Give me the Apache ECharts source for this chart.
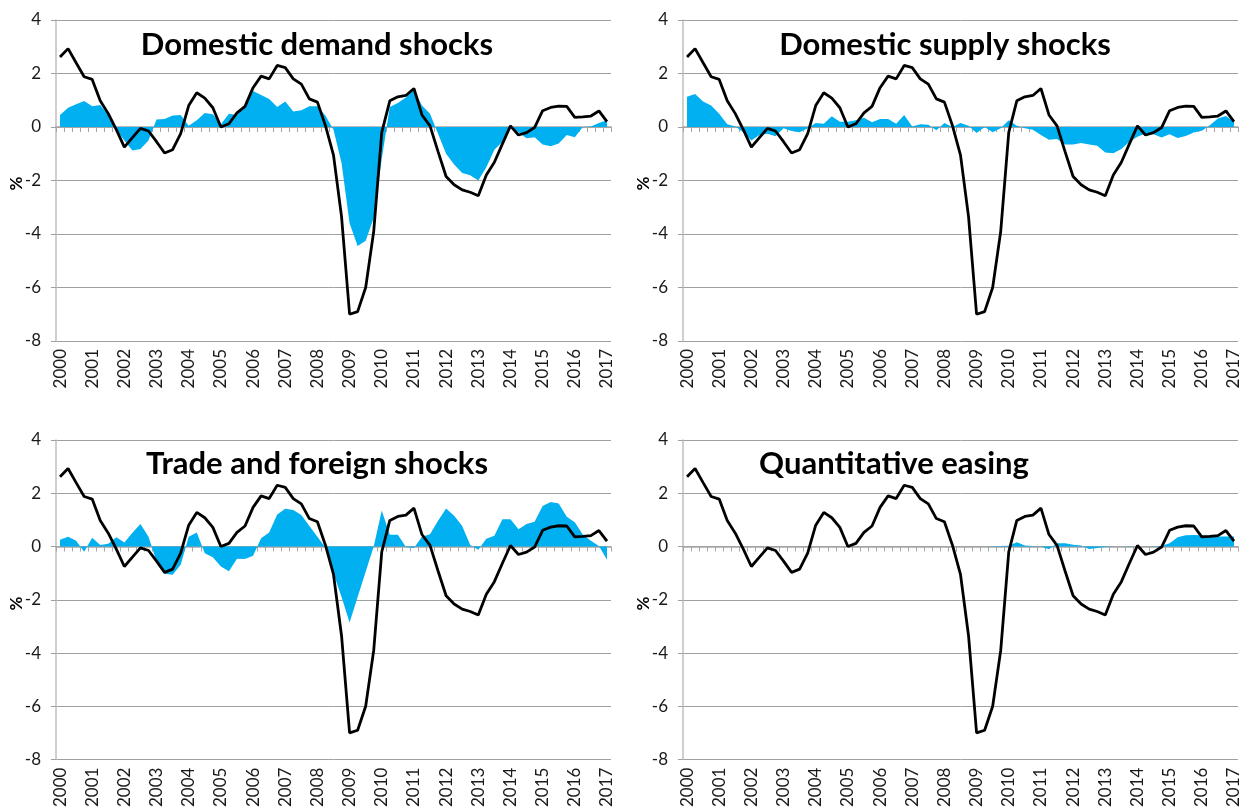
<!DOCTYPE html>
<html>
<head>
<meta charset="utf-8">
<script src="https://cdn.jsdelivr.net/npm/echarts@6.0.0/dist/echarts.min.js"></script>
<style>
html,body{margin:0;padding:0;background:#fff;}
#chart{width:1244px;height:810px;}
</style>
</head>
<body>
<div id="chart"></div>
<script>
const categories = [
 "2000Q1","2000Q2","2000Q3","2000Q4","2001Q1","2001Q2","2001Q3","2001Q4",
 "2002Q1","2002Q2","2002Q3","2002Q4","2003Q1","2003Q2","2003Q3","2003Q4",
 "2004Q1","2004Q2","2004Q3","2004Q4","2005Q1","2005Q2","2005Q3","2005Q4",
 "2006Q1","2006Q2","2006Q3","2006Q4","2007Q1","2007Q2","2007Q3","2007Q4",
 "2008Q1","2008Q2","2008Q3","2008Q4","2009Q1","2009Q2","2009Q3","2009Q4",
 "2010Q1","2010Q2","2010Q3","2010Q4","2011Q1","2011Q2","2011Q3","2011Q4",
 "2012Q1","2012Q2","2012Q3","2012Q4","2013Q1","2013Q2","2013Q3","2013Q4",
 "2014Q1","2014Q2","2014Q3","2014Q4","2015Q1","2015Q2","2015Q3","2015Q4",
 "2016Q1","2016Q2","2016Q3","2016Q4","2017Q1"
];

const yTicks = { min: -8, max: 4, step: 2 };
const yUnit = "%";

const gdpGrowth = [
 2.62, 2.93, 2.4, 1.88, 1.78, 0.98, 0.5, -0.1,
 -0.75, -0.4, -0.05, -0.15, -0.55, -0.97, -0.85, -0.25,
 0.8, 1.28, 1.08, 0.72, 0.0, 0.12, 0.53, 0.77,
 1.47, 1.9, 1.8, 2.3, 2.22, 1.8, 1.6, 1.05,
 0.93, 0.05, -1.05, -3.35, -7.0, -6.9, -6.0, -3.9,
 -0.2, 0.98, 1.13, 1.18, 1.44, 0.45, 0.04, -0.92,
 -1.85, -2.16, -2.35, -2.44, -2.57, -1.79, -1.32, -0.63,
 0.04, -0.3, -0.21, -0.02, 0.61, 0.73, 0.78, 0.77,
 0.36, 0.38, 0.41, 0.6, 0.2
];

const demandShock = [
 0.45, 0.72, 0.85, 0.97, 0.78, 0.82, 0.45, -0.1,
 -0.5, -0.88, -0.82, -0.5, 0.28, 0.3, 0.43, 0.45,
 0.05, 0.25, 0.52, 0.48, 0.1, 0.5, 0.45, 0.8,
 1.35, 1.2, 1.05, 0.75, 0.95, 0.58, 0.63, 0.78,
 0.78, 0.42, -0.1, -1.35, -3.6, -4.45, -4.25, -3.4,
 -1.2, 0.75, 0.9, 1.1, 1.4, 0.8, 0.5, -0.25,
 -1.0, -1.4, -1.72, -1.8, -2.0, -1.5, -0.85, -0.55,
 0.0, -0.2, -0.42, -0.38, -0.65, -0.72, -0.62, -0.3,
 -0.38, 0.0, 0.02, 0.15, 0.25
];

const supplyShock = [
 1.13, 1.23, 0.95, 0.8, 0.5, 0.1, 0.02, -0.2,
 -0.5, -0.3, -0.25, -0.35, -0.05, -0.15, -0.2, -0.05,
 0.15, 0.12, 0.4, 0.2, 0.2, 0.25, 0.35, 0.18,
 0.3, 0.3, 0.12, 0.45, 0.02, 0.1, 0.08, -0.12,
 0.15, 0.0, 0.15, 0.05, -0.22, 0.0, -0.2, -0.05,
 0.25, 0.05, -0.05, -0.1, -0.3, -0.48, -0.45, -0.65,
 -0.65, -0.6, -0.65, -0.7, -0.95, -0.98, -0.82, -0.55,
 -0.36, -0.24, -0.27, -0.39, -0.27, -0.41, -0.34, -0.21,
 -0.14, 0.07, 0.32, 0.41, 0.2
];

const tradeShock = [
 0.25, 0.37, 0.22, -0.2, 0.33, 0.06, 0.1, 0.35,
 0.15, 0.52, 0.85, 0.37, -0.55, -1.02, -1.06, -0.68,
 0.37, 0.53, -0.25, -0.4, -0.75, -0.93, -0.46, -0.47,
 -0.35, 0.31, 0.53, 1.2, 1.42, 1.37, 1.18, 0.77,
 0.37, -0.05, -1.0, -1.9, -2.85, -1.9, -0.95, 0.0,
 1.35, 0.44, 0.44, -0.02, -0.06, 0.37, 0.46, 0.97,
 1.43, 1.16, 0.77, 0.06, -0.12, 0.29, 0.4, 1.02,
 1.02, 0.65, 0.85, 0.93, 1.52, 1.67, 1.62, 1.12,
 0.91, 0.44, 0.22, 0.02, -0.5
];

const qeShock = [
 0, 0, 0, 0, 0, 0, 0, 0,
 0, 0, 0, 0, 0, 0, 0, 0,
 0, 0, 0, 0, 0, 0, 0, 0,
 0, 0, 0, 0, 0, 0, 0, 0,
 0, 0, 0, 0, 0, 0, 0.01, 0.02,
 0.03, 0.16, 0.04, 0.02, 0.0, -0.1, 0.12, 0.12,
 0.07, 0.04, -0.09, -0.06, -0.02, 0.0, 0.0, 0.01,
 0.0, 0.0, 0.01, 0.02, 0.12, 0.35, 0.42, 0.43,
 0.42, 0.4, 0.38, 0.38, 0.38
];

const panelTitles = ["Domestic demand shocks", "Domestic supply shocks", "Trade and foreign shocks", "Quantitative easing"];
const panelShocks = [demandShock, supplyShock, tradeShock, qeShock];

const FONT = "Lato, 'Noto Sans', 'DejaVu Sans', sans-serif";
const layout = [
  { left: 56,  top: 20,  tx: 317, ty: 45 },
  { left: 683, top: 20,  tx: 945, ty: 45 },
  { left: 56,  top: 440, tx: 317, ty: 464 },
  { left: 683, top: 440, tx: 894, ty: 464 }
];
const PW = 555, PH = 321;

const grid = [], xAxis = [], yAxis = [], series = [], graphic = [];
layout.forEach((p, g) => {
  grid.push({ left: p.left, top: p.top, width: PW, height: PH, containLabel: false });
  xAxis.push({
    type: 'category', gridIndex: g, data: categories, boundaryGap: true, position: 'bottom',
    axisLine: { show: false, onZero: false }, axisTick: { show: false },
    splitLine: { show: false },
    axisLabel: { interval: 3, rotate: 90, margin: 8, fontSize: 17, color: '#1a1a1a', fontFamily: FONT,
      formatter: v => v.slice(0, 4) }
  });
  xAxis.push({
    type: 'category', gridIndex: g, data: categories, boundaryGap: true, position: 'bottom',
    axisLine: { show: true, onZero: true, lineStyle: { color: '#a6a6a6', width: 1.5 } },
    axisTick: { show: true, interval: 0, length: 5, lineStyle: { color: '#a6a6a6', width: 1 } },
    axisLabel: { show: false }, splitLine: { show: false }
  });
  yAxis.push({
    type: 'value', gridIndex: g, min: yTicks.min, max: yTicks.max, interval: yTicks.step,
    axisLine: { show: true, onZero: false, lineStyle: { color: '#bfbfbf', width: 1.5 } },
    axisTick: { show: true, length: 5, lineStyle: { color: '#a0a0a0' } },
    axisLabel: { fontSize: 17, margin: 15, color: '#1a1a1a', fontFamily: FONT },
    splitLine: { show: true, lineStyle: { color: '#a0a0a0', width: 1 } }
  });
  series.push({
    type: 'line', xAxisIndex: 2 * g, yAxisIndex: g, data: panelShocks[g],
    symbol: 'none', lineStyle: { width: 0, color: '#00B0F0' },
    itemStyle: { color: '#00B0F0' },
    areaStyle: { color: '#00B0F0', opacity: 1, origin: 0 }, z: 2, silent: true
  });
  series.push({
    type: 'line', xAxisIndex: 2 * g + 1, yAxisIndex: g, data: gdpGrowth,
    symbol: 'none', lineStyle: { width: 2.8, color: '#000' }, itemStyle: { color: '#000' },
    z: 3, silent: true
  });
  graphic.push({
    type: 'text', x: p.tx, y: p.ty, z: 10,
    style: { text: panelTitles[g], font: "bold 31px " + FONT, fill: '#000', align: 'center', verticalAlign: 'middle' }
  });
  graphic.push({
    type: 'text', x: p.left - 39, y: p.top + PH / 2 + 3, rotation: Math.PI / 2, z: 10,
    style: { text: yUnit, font: "bold 17px " + FONT, fill: '#000', align: 'center', verticalAlign: 'middle' }
  });
});

const chart = echarts.init(document.getElementById('chart'), null, { renderer: 'canvas' });
chart.setOption({
  backgroundColor: '#fff',
  animation: false,
  textStyle: { fontFamily: FONT },
  grid, xAxis, yAxis, series, graphic
});
</script>
</body>
</html>
